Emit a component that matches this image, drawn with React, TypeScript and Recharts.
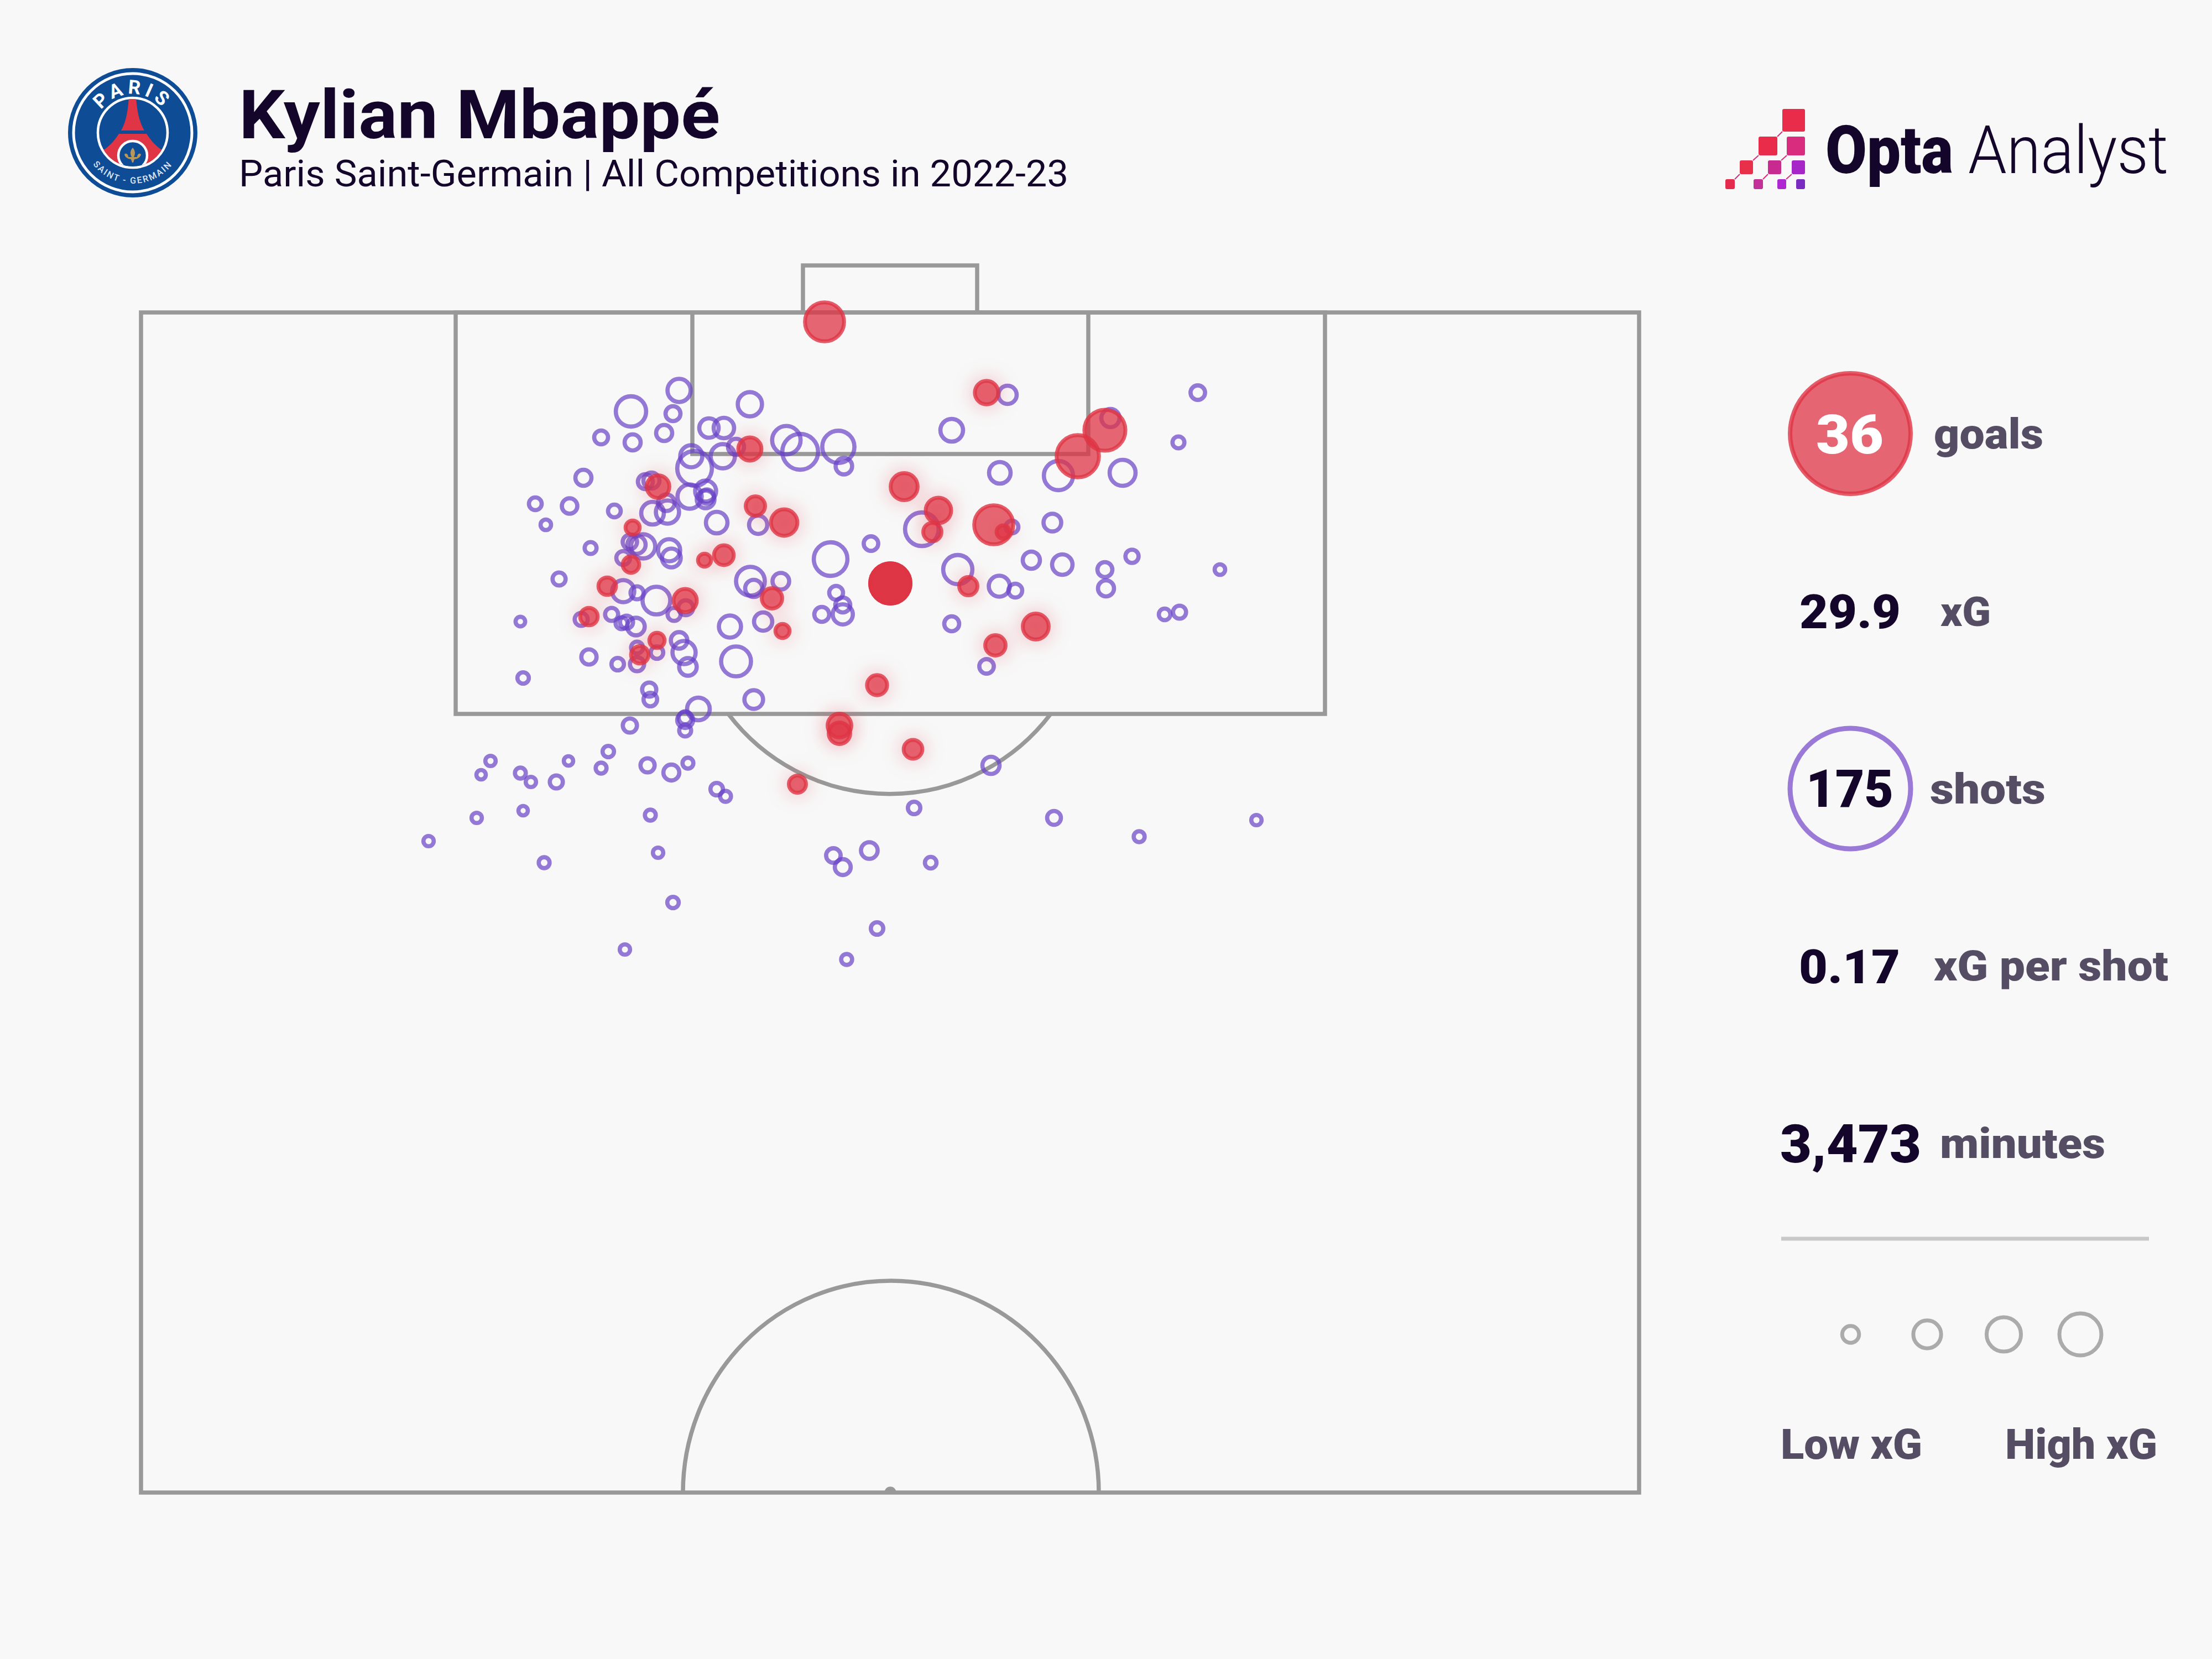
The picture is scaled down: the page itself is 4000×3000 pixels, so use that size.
import React from "react";
import {ScatterChart, Scatter, XAxis, YAxis, ZAxis} from "recharts";

// pitch units: x from the left touchline, y from the goal line, [x, y, xG]
const shots: [number, number, number][] = [
  [97.3, 14.1, 0.225], [88.6, 17.9, 0.414], [96.2, 18.3, 0.07], [94.6, 21.8, 0.087], [83.2, 22.6, 0.054],
  [88.9, 23.5, 0.087], [110.1, 16.6, 0.25], [102.7, 20.9, 0.145], [105.4, 20.9, 0.166], [107.6, 24.3, 0.087],
  [99.5, 26, 0.201], [105.2, 26, 0.25], [100.1, 28.2, 0.555], [116.7, 23.1, 0.36], [119.2, 25.2, 0.593],
  [126.1, 24.3, 0.472], [127.1, 27.8, 0.094], [80, 29.9, 0.087], [71.3, 34.6, 0.04], [77.5, 35, 0.078],
  [73.2, 38.4, 0.014], [85.6, 35.9, 0.04], [91.2, 30.6, 0.07], [92.3, 30.4, 0.087], [95, 34.4, 0.097],
  [95.2, 36.1, 0.225], [92.5, 36.3, 0.213], [99.2, 33.3, 0.25], [102.1, 32.3, 0.177], [102.1, 33.8, 0.115],
  [102.3, 33.3, 0.062], [104.1, 38, 0.189], [111.6, 38.4, 0.124], [81.3, 42.6, 0.03], [88.4, 41.5, 0.062],
  [89.6, 42, 0.124], [90.8, 42.3, 0.25], [87.2, 44.4, 0.054], [95.5, 43, 0.201], [95.9, 44.4, 0.134],
  [124.7, 44.6, 0.518], [132, 41.8, 0.064], [141.2, 39.2, 0.518], [146.6, 21.3, 0.213], [156.7, 14.9, 0.124],
  [191.1, 14.5, 0.064], [187.6, 23.5, 0.03], [175.3, 19.1, 0.124], [155.3, 29, 0.189], [165.9, 29.5, 0.38],
  [177.5, 29, 0.292], [164.8, 38, 0.115], [157.5, 38.8, 0.04], [161, 44.8, 0.105], [166.6, 45.6, 0.166],
  [179.2, 44.1, 0.046], [195.1, 46.5, 0.014], [174.3, 46.5, 0.07], [174.5, 49.9, 0.087], [147.7, 46.5, 0.38],
  [155.2, 49.5, 0.177], [158.1, 50.3, 0.054], [185.1, 54.6, 0.026], [187.8, 54.2, 0.044], [146.6, 56.3, 0.07],
  [152.9, 64, 0.064], [125.7, 50.7, 0.054], [126.9, 52.9, 0.07], [126.9, 54.6, 0.16], [123.1, 54.6, 0.07],
  [115.7, 48.6, 0.097], [75.6, 48.2, 0.044], [87.2, 50.4, 0.201], [89.7, 50.7, 0.044], [93.2, 52.1, 0.34],
  [96.4, 54.6, 0.044], [98.5, 53.4, 0.07], [110.2, 48.6, 0.369], [110.8, 49.9, 0.105], [112.5, 55.9, 0.124],
  [106.5, 56.8, 0.201], [85.1, 54.6, 0.044], [86.9, 56.2, 0.03], [87.8, 56, 0.044], [89.5, 56.8, 0.112],
  [79.6, 55.5, 0.044], [68.6, 55.9, 0.005], [69.1, 66.1, 0.024], [81, 62.3, 0.075], [86.2, 63.6, 0.037],
  [89.7, 60.6, 0.03], [89.7, 63.6, 0.059], [93.3, 61.5, 0.037], [97.3, 59.3, 0.094], [98.2, 61.5, 0.225],
  [98.9, 64.1, 0.112], [107.6, 63.1, 0.401], [91.9, 68.2, 0.059], [92.1, 70, 0.051], [100.8, 71.7, 0.213],
  [110.8, 70, 0.132], [88.4, 74.7, 0.059], [98.4, 73.3, 0.044], [98.4, 73.7, 0.085], [98.4, 75.6, 0.03],
  [63.2, 81.1, 0.012], [61.5, 83.6, 0.003], [68.6, 83.3, 0.018], [70.5, 84.9, 0.012], [75.1, 84.9, 0.044],
  [77.3, 81.1, 0.003], [84.5, 79.4, 0.024], [83.2, 82.4, 0.018], [91.6, 81.9, 0.059], [95.9, 83.2, 0.085],
  [98.9, 81.5, 0.018], [104.1, 86.2, 0.037], [105.7, 87.5, 0.018], [60.7, 91.4, 0.012], [69.1, 90.1, 0.003],
  [92.1, 90.9, 0.018], [52, 95.6, 0.012], [72.9, 99.5, 0.018], [93.5, 97.7, 0.012], [96.2, 106.7, 0.024],
  [87.5, 115.2, 0.012], [153.7, 81.9, 0.105], [139.8, 89.6, 0.036], [165.1, 91.4, 0.054], [180.5, 94.8, 0.019],
  [201.7, 91.8, 0.012], [125.2, 98.2, 0.064], [126.9, 100.3, 0.085], [131.7, 97.3, 0.097], [142.8, 99.5, 0.026],
  [133.1, 111.4, 0.036], [127.6, 117, 0.019],
];

const goals: [number, number, number][] = [
  [123.6, 1.7, 0.715], [152.9, 14.5, 0.23], [174.3, 21.3, 0.793], [169.4, 26, 0.847], [110.1, 24.7, 0.225],
  [93.5, 31.5, 0.213], [111.1, 35, 0.145], [116.3, 38, 0.305], [88.9, 38.9, 0.059], [138, 31.5, 0.32],
  [144.2, 35.8, 0.28], [143.1, 39.7, 0.124], [154.2, 38.4, 0.715], [155.9, 39.7, 0.046], [101.9, 44.8, 0.044],
  [105.4, 43.9, 0.153], [88.6, 45.6, 0.094], [84.3, 49.5, 0.112], [81, 55, 0.112], [98.4, 52.1, 0.225],
  [114.1, 51.7, 0.166], [116, 57.6, 0.059], [93.3, 59.3, 0.075], [90.2, 61.9, 0.112],
  // penalties, all from the same spot
  [135.5, 49, 0.758], [135.5, 49, 0.758], [135.5, 49, 0.758], [135.5, 49, 0.758],
  [149.6, 49.5, 0.124], [161.8, 56.8, 0.292], [154.5, 60.2, 0.166], [133.1, 67.4, 0.16], [126.3, 74.7, 0.238],
  [126.3, 76.1, 0.189], [139.6, 79, 0.132], [118.7, 85.3, 0.105],
];

const legendXg = [0.1, 0.342, 0.544, 0.833];

const toRows = (list: [number, number, number][]) => list.map(([x, y, xg]) => ({x, y, xg}));
const shotRows = toRows(shots);
// the glow only shows on the lower xG goals
const softGoalRows = toRows(goals.filter((g) => g[2] < 0.6));
const bigGoalRows = toRows(goals.filter((g) => g[2] >= 0.6));
const legendRows = legendXg.map((xg, i) => ({x: i + 1, y: 0, xg}));

const BG = "#F8F8F8";
const LINE = "#999999";
const RED = "#DF3545";
const PURPLE = "#6841C7";
const DARK = "#14062A";
const MUTED = "#544D63";
const BLUE = "#0F4C96";
const STAT_FONT = "Roboto, sans-serif";

// xG to circle area, shared by the pitch and the legend
const XG_DOMAIN = [0, 1];
const AREA_RANGE = [210, 5400];

function Label({x, y, w, size, weight = 700, fill = DARK, children}: any) {
  return (
    <text
      x={x}
      y={y}
      fontSize={size}
      fontWeight={weight}
      fill={fill}
      fontFamily={STAT_FONT}
      textLength={w}
      lengthAdjust="spacingAndGlyphs"
    >
      {children}
    </text>
  );
}

function PsgBadge() {
  return (
    <g>
      <circle cx={240} cy={240} r={117} fill={BLUE} />
      <circle cx={240} cy={240} r={107} fill="none" stroke="#fff" strokeWidth={5} />
      <circle cx={240} cy={240} r={63} fill={BLUE} stroke="#fff" strokeWidth={4.5} />
      <defs>
        <path id="psgTop" d="M 170 240 A 70 70 0 0 1 310 240" />
        <path id="psgBottom" d="M 148 240 A 92 92 0 0 0 332 240" />
        <clipPath id="psgInner">
          <circle cx={240} cy={240} r={61} />
        </clipPath>
      </defs>
      <text fontFamily={STAT_FONT} fontWeight={700} fontSize={35} fill="#fff" letterSpacing={7}>
        <textPath href="#psgTop" startOffset="50%" textAnchor="middle">
          PARIS
        </textPath>
      </text>
      <text fontFamily={STAT_FONT} fontWeight={500} fontSize={16} fill="#DCE6F2" letterSpacing={2.4}>
        <textPath href="#psgBottom" startOffset="50%" textAnchor="middle">
          SAINT - GERMAIN
        </textPath>
      </text>
      <g clipPath="url(#psgInner)">
        <path d="M233 176 L246 176 C248 205 253 222 261 236 L219 236 C227 222 231 205 233 176 Z" fill={RED} />
        <path d="M215 242 L265 242 C273 254 281 264 294 272 L272 298 L208 298 L186 272 C199 264 207 254 215 242 Z" fill={RED} />
        <circle cx={240} cy={281} r={26} fill={BLUE} stroke="#fff" strokeWidth={4.5} />
      </g>
      <path
        d="M240 267 C245 273 245 278 242 284 L248 284 C248 279 252 276 255 279 C254 284 250 287 243 288 L241 294 L239 294 L237 288 C230 287 226 284 225 279 C228 276 232 279 232 284 L238 284 C235 278 235 273 240 267 Z"
        fill="#B9975B"
      />
    </g>
  );
}

function OptaMark() {
  const squares = [
    [3223, 197, 41, 41, "#E82C4A"],
    [3180, 247, 34, 34, "#E82C4A"],
    [3231, 247, 33, 34, "#D92C7E"],
    [3146, 290, 24, 25, "#E8304A"],
    [3197, 290, 24, 25, "#C82B90"],
    [3240, 290, 24, 25, "#A726C8"],
    [3120, 324, 17, 18, "#E52B4D"],
    [3171, 324, 17, 18, "#C23098"],
    [3214, 324, 16, 18, "#AE27D0"],
    [3248, 324, 16, 18, "#7B2CC0"],
  ] as const;
  return (
    <g>
      <path d="M3223 238 L3214 247 M3180 281 L3170 290 M3231 281 L3221 290 M3146 315 L3137 324 M3197 315 L3188 324 M3240 315 L3230 324" stroke="#D92C7E" strokeWidth={2} />
      {squares.map(([x, y, w, h, fill]) => (
        <rect key={`${x}-${y}`} x={x} y={y} width={w} height={h} rx={3} fill={fill} />
      ))}
    </g>
  );
}

function PitchLines() {
  return (
    <g fill="none" stroke={LINE} strokeWidth={7.5}>
      <rect x={255} y={565} width={2709} height={2134} />
      <rect x={824} y={565} width={1572} height={726} />
      <path d="M1252 565 V821 H1968 V565" />
      <path d="M1452 565 V480 H1767 V565" />
      <path d="M1317 1291 A366 366 0 0 0 1900 1291" />
      <path d="M1235 2699 A376 383 0 0 1 1987 2699" />
      <path d="M1603 2699 A7 7 0 0 1 1617 2699" fill={LINE} />
    </g>
  );
}

export default function App() {
  return (
    <div style={{position: "absolute", left: 0, top: 0, width: 4000, height: 3000, background: BG, overflow: "hidden"}}>
      <style>{`.goal-series { filter: drop-shadow(0 0 18px rgba(224, 53, 69, 0.2)); }`}</style>
      <svg width={4000} height={3000} style={{position: "absolute", left: 0, top: 0}}>
        <PsgBadge />
        <Label x={432} y={250} w={870} size={122}>Kylian Mbappé</Label>
        <Label x={432} y={337} w={1500} size={66} weight={400}>Paris Saint-Germain | All Competitions in 2022-23</Label>
        <OptaMark />
        <Label x={3301} y={313} w={231} size={120} weight={900}>Opta</Label>
        <Label x={3559} y={313} w={362} size={120} weight={300}>Analyst</Label>
        <PitchLines />

        <circle cx={3346} cy={784} r={109} fill={RED} fillOpacity={0.75} stroke={RED} strokeOpacity={0.8} strokeWidth={8} />
        <Label x={3284} y={820} w={122} size={98} weight={900} fill="#fff">36</Label>
        <Label x={3497} y={811} w={198} size={76} weight={900} fill={MUTED}>goals</Label>

        <Label x={3254} y={1136} w={183} size={86} weight={900}>29.9</Label>
        <Label x={3509} y={1132} w={91} size={75} weight={900} fill={MUTED}>xG</Label>

        <circle cx={3346} cy={1426} r={109} fill="none" stroke="#9A7AD6" strokeWidth={9} />
        <Label x={3266} y={1459} w={158} size={94} weight={900}>175</Label>
        <Label x={3490} y={1453} w={209} size={76} weight={900} fill={MUTED}>shots</Label>

        <Label x={3253} y={1778} w={183} size={86} weight={900}>0.17</Label>
        <Label x={3497} y={1773} w={424} size={76} weight={900} fill={MUTED}>xG per shot</Label>

        <Label x={3219} y={2102} w={255} size={96} weight={900}>3,473</Label>
        <Label x={3508} y={2094} w={299} size={76} weight={900} fill={MUTED}>minutes</Label>

        <line x1={3221} x2={3886} y1={2240} y2={2240} stroke="#C8C8C8" strokeWidth={7} />
        <Label x={3220} y={2638} w={256} size={76} weight={900} fill={MUTED}>Low xG</Label>
        <Label x={3626} y={2638} w={275} size={76} weight={900} fill={MUTED}>High xG</Label>
      </svg>

      <div style={{position: "absolute", left: 0, top: 0}}>
        <ScatterChart width={4000} height={3000} margin={{left: 255, right: 1036, top: 565, bottom: 301}}>
          <XAxis type="number" dataKey="x" domain={[0, 270.9]} hide />
          <YAxis type="number" dataKey="y" domain={[0, 213.4]} reversed hide />
          <ZAxis type="number" dataKey="xg" domain={XG_DOMAIN} range={AREA_RANGE} />
          <Scatter
            data={shotRows}
            fill="none"
            stroke={PURPLE}
            strokeOpacity={0.7}
            strokeWidth={7.6}
            isAnimationActive={false}
          />
          <Scatter
            className="goal-series"
            data={softGoalRows}
            fill={RED}
            fillOpacity={0.75}
            stroke={RED}
            strokeOpacity={0.8}
            strokeWidth={7}
            isAnimationActive={false}
          />
          <Scatter
            data={bigGoalRows}
            fill={RED}
            fillOpacity={0.75}
            stroke={RED}
            strokeOpacity={0.8}
            strokeWidth={7}
            isAnimationActive={false}
          />
        </ScatterChart>
      </div>

      <div style={{position: "absolute", left: 3207.5, top: 2363}}>
        <ScatterChart width={692.5} height={100} margin={{left: 0, right: 0, top: 0, bottom: 0}}>
          <XAxis type="number" dataKey="x" domain={[0, 5]} hide />
          <YAxis type="number" dataKey="y" domain={[-1, 1]} hide />
          <ZAxis type="number" dataKey="xg" domain={XG_DOMAIN} range={AREA_RANGE} />
          <Scatter data={legendRows} fill="none" stroke="#ABABAB" strokeWidth={7} isAnimationActive={false} />
        </ScatterChart>
      </div>
    </div>
  );
}
